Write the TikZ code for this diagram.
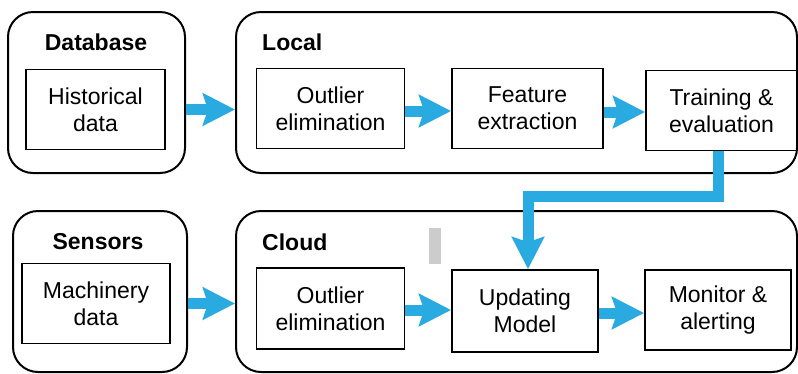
\documentclass[tikz,border=0pt]{standalone}
\usepackage{fontspec}
\setmainfont{Liberation Sans}
\usepackage{tikz}
\usetikzlibrary{calc}
\usetikzlibrary{arrows.meta}
\definecolor{flowblue}{RGB}{41,171,226}
\tikzset{
    group/.style={draw, line width=2pt, rounded corners=25pt, inner sep=0pt, minimum height=161pt},
    stage/.style={draw, line width=1.8pt, minimum width=148pt, minimum height=80pt, inner sep=0pt,
        align=center, font=\fontsize{23}{27}\selectfont},
    heading/.style={inner sep=0pt, font=\fontsize{23}{27}\selectfont\bfseries},
    flow/.style={flowblue, line width=11pt, -{Stealth[length=32pt,width=32pt,inset=5pt]}}
}

\begin{document}
\begin{tikzpicture}[x=1pt,y=-1pt]
    \useasboundingbox (0,0) rectangle (798,373);
    %upper row
    \node[group, minimum width=177pt] (dbbox) at (96.5,92.5) {};
    \node[group, minimum width=561pt] (localbox) at (516.5,92.5) {};
    \node[heading, anchor=base] (dbtitle) at (96,50) {Database};
    \node[heading, anchor=base west] (localtitle) at (262,50) {Local};
    \node[stage, minimum width=139pt] (hist) at (95.5,109.5) {Historical\\data};
    \node[stage] (outlier) at (330.5,108.5) {Outlier\\elimination};
    \node[stage, minimum width=151pt] (feature) at (527.5,108.5) {Feature\\extraction};
    \node[stage, minimum width=151pt] (train) at (721.5,110.5) {Training \&\\evaluation};
    %lower row
    \node[group, minimum width=174pt] (sensbox) at (100,291.5) {};
    \node[group, minimum width=561pt] (cloudbox) at (516.5,291.5) {};
    \node[heading, anchor=base] (senstitle) at (98,249) {Sensors};
    \node[heading, anchor=base west] (cloudtitle) at (262,250) {Cloud};
    \node[stage] (machine) at (96,303.5) {Machinery\\data};
    \node[stage, minimum height=81pt] (outliertwo) at (330.5,308.5) {Outlier\\elimination};
    \node[stage, minimum width=146pt, minimum height=82pt] (update) at (525,311) {Updating\\Model};
    \node[stage, minimum width=146pt] (monitor) at (718,310) {Monitor \&\\alerting};
    \fill[gray!40] (429,228) rectangle (441,264);

    \draw[flow] (dbbox.east |- hist.east) -- (localbox.west |- hist.east);
    \draw[flow] (outlier.east |- 0,111) -- (feature.west |- 0,111);
    \draw[flow] (feature.east |- 0,112) -- (train.west |- 0,112);
    \draw[flow] (train.south) ++(-3,0) -- ++(0,45) -| ($(update.north)+(3,0)$);
    \draw[flow] (sensbox.east |- machine.east) -- (cloudbox.west |- machine.east);
    \draw[flow] (outliertwo.east |- 0,310) -- (update.west |- 0,310);
    \draw[flow] (update.east |- 0,313) -- (monitor.west |- 0,313);
\end{tikzpicture}
\end{document}
